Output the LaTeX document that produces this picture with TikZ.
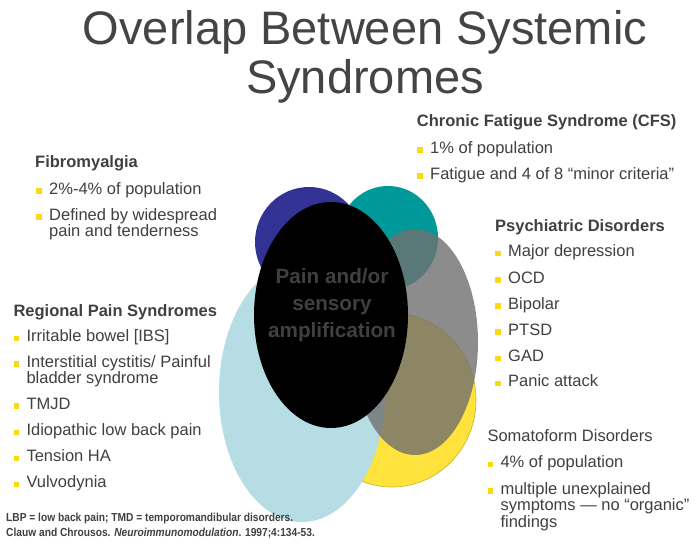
\documentclass[tikz,border=0pt]{standalone}
\usepackage{fontspec}
\setmainfont{Liberation Sans}
\newfontfamily\footfont[FakeStretch=0.88]{Liberation Sans}
\definecolor{txt}{RGB}{64,64,64}
\definecolor{titlecol}{RGB}{68,68,68}
\definecolor{bulcol}{RGB}{250,218,20}
\definecolor{ylw}{RGB}{255,226,60}
\definecolor{ylwedge}{RGB}{200,175,40}
\definecolor{lblue}{RGB}{183,221,228}
\definecolor{dblue}{RGB}{51,51,150}
\definecolor{tealc}{RGB}{0,153,153}
\definecolor{grayc}{RGB}{112,112,112}
\newcommand\bul{\textcolor{bulcol}{\rule[0.5pt]{5.5pt}{5.5pt}}\hspace{7.5pt}}
\tikzset{
  head/.style={anchor=base west, inner sep=0pt, text=txt, font=\bfseries\fontsize{16.5}{15.5}\selectfont},
  itm/.style={anchor=base west, inner sep=0pt, text=txt, font=\fontsize{16.5}{15.5}\selectfont},
  titlestyle/.style={anchor=base, inner sep=0pt, text=titlecol, font=\fontsize{47}{49}\selectfont},
  centertext/.style={anchor=base, inner sep=0pt, text=txt, font=\bfseries\fontsize{20.7}{27}\selectfont},
  foot/.style={anchor=base west, inner sep=0pt, text=txt, font=\footfont\bfseries\fontsize{11.6}{14.3}\selectfont},
}
\begin{document}
\begin{tikzpicture}[x=1pt,y=-1pt]
\useasboundingbox (0,0) rectangle (698,559);
\fill[white] (0,0) rectangle (698,559);

% title
\node[titlestyle] (title) at (365,45) {\begin{tabular}[t]{@{}c@{}}Overlap Between Systemic\\Syndromes\end{tabular}};

% overlapping ellipses
\fill[ylw, draw=ylwedge, line width=0.6pt] (392,400) ellipse [x radius=84pt, y radius=87pt];
\fill[lblue] (302,392) ellipse [x radius=83pt, y radius=130pt];
\fill[dblue] (309,242) ellipse [x radius=54pt, y radius=55pt];
\fill[tealc] (388,238) ellipse [x radius=50pt, y radius=52pt];
\fill[grayc, fill opacity=0.8] (415,342) ellipse [x radius=63pt, y radius=113pt];
\fill[black] (331,315) ellipse [x radius=77pt, y radius=113pt];
\node[centertext] (pain) at (332,283) {\begin{tabular}[t]{@{}c@{}}Pain and/or\\sensory\\amplification\end{tabular}};

% CFS
\node[head] (cfs) at (416.7,126.7) {Chronic Fatigue Syndrome (CFS)};
\node[itm] (cfs1) at (417,153.3) {\bul 1\% of population};
\node[itm] (cfs2) at (417,179) {\bul Fatigue and 4 of 8 “minor criteria”};

% Fibromyalgia
\node[head] (fib) at (35,167.3) {Fibromyalgia};
\node[itm] (fib1) at (36,194) {\bul 2\%-4\% of population};
\node[itm] (fib2) at (36,220) {\bul\begin{tabular}[t]{@{}l@{}}Defined by widespread\\pain and tenderness\end{tabular}};

% Psychiatric
\node[head] (psy) at (495,231.7) {Psychiatric Disorders};
\node[itm] (psy1) at (495,256.7) {\bul Major depression};
\node[itm] (psy2) at (495,283.3) {\bul OCD};
\node[itm] (psy3) at (495,309.3) {\bul Bipolar};
\node[itm] (psy4) at (495,335.3) {\bul PTSD};
\node[itm] (psy5) at (495,361.7) {\bul GAD};
\node[itm] (psy6) at (495,386.7) {\bul Panic attack};

% Regional pain
\node[head] (reg) at (13.3,316) {Regional Pain Syndromes};
\node[itm] (reg1) at (13.3,341.7) {\bul Irritable bowel [IBS]};
\node[itm] (reg2) at (13.3,367.3) {\bul\begin{tabular}[t]{@{}l@{}}Interstitial cystitis/ Painful\\bladder syndrome\end{tabular}};
\node[itm] (reg3) at (13.3,409.3) {\bul TMJD};
\node[itm] (reg4) at (13.3,435.7) {\bul Idiopathic low back pain};
\node[itm] (reg5) at (13.3,461.7) {\bul Tension HA};
\node[itm] (reg6) at (13.3,487.7) {\bul Vulvodynia};

% Somatoform
\node[itm] (som) at (487.3,441.7) {Somatoform Disorders};
\node[itm] (som1) at (487.3,467.7) {\bul 4\% of population};
\node[itm] (som2) at (487.3,494) {\bul\begin{tabular}[t]{@{}l@{}}multiple unexplained\\symptoms — no “organic”\\findings\end{tabular}};

% footnote
\node[foot] (fn) at (6,521.7) {\begin{tabular}[t]{@{}l@{}}LBP = low back pain; TMD = temporomandibular disorders.\\Clauw and Chrousos. \textit{Neuroimmunomodulation}. 1997;4:134-53.\end{tabular}};
\end{tikzpicture}
\end{document}
